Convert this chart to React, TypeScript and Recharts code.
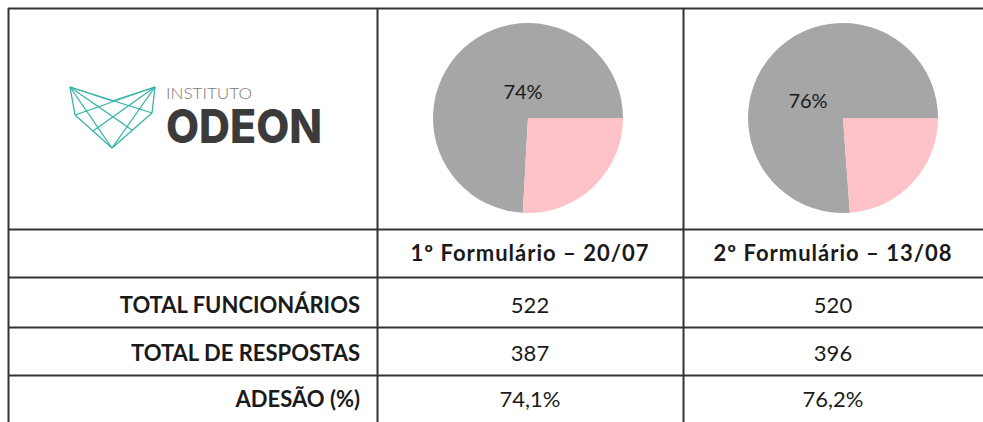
import { PieChart, Pie, Cell } from 'recharts';

const forms = ['1º Formulário – 20/07', '2º Formulário – 13/08'];
const rowLabels = ['TOTAL FUNCIONÁRIOS', 'TOTAL DE RESPOSTAS', 'ADESÃO (%)'];
const totalFuncionarios = [522, 520];
const totalRespostas = [387, 396];
const adesao = ['74,1%', '76,2%'];
const sliceNames = ['Respostas', 'Sem resposta'];
const sliceColors = ['#a6a6a6', '#ffc2c9'];

const FONT = 'Lato, "Open Sans", sans-serif';
const LINE = '#333';

// layout of the table (page pixels)
const colX = [8, 377, 683, 983];
const rowY = [8, 229, 277, 327, 375, 422];
const pieBoxes = [
  { left: 378, width: 305, cx: 150, cy: 109, dx: -5, dy: -27 },
  { left: 684, width: 299, cx: 159, cy: 109, dx: -35, dy: -18 },
];

function Logo() {
  const TL = [70, 87], TR = [155, 87], L = [75, 115], R = [152, 113], B = [112, 148], M = [112, 101];
  const mLB = [93, 131], mBR = [132, 130];
  const segs = [
    [TL, L], [L, B], [B, R], [R, TR], [TL, M], [M, TR],
    [TL, R], [TL, mBR], [TL, B], [TR, L], [TR, mLB], [TR, B],
  ];
  return (
    <svg width={983} height={422} style={{ position: 'absolute', left: 0, top: 0 }}>
      {segs.map(([a, b], i) => (
        <line key={i} x1={a[0]} y1={a[1]} x2={b[0]} y2={b[1]} stroke="#35b3a7" strokeWidth={1.3} />
      ))}
      <text>
        <tspan x={166} y={99} fontFamily={FONT} fontSize={16} fontWeight={300} fill="#7a7a7a"
          textLength={86} lengthAdjust="spacingAndGlyphs">INSTITUTO</tspan>
        <tspan x={166} y={143} fontFamily='Inter, "DejaVu Sans", sans-serif' fontSize={47} fontWeight={800} fill="#3b3b3b"
          textLength={156} lengthAdjust="spacingAndGlyphs">ODEON</tspan>
      </text>
      {colX.slice(0, 3).map((x) => (
        <line key={'v' + x} x1={x + 0.5} y1={rowY[0]} x2={x + 0.5} y2={422} stroke={LINE} strokeWidth={2} />
      ))}
      {rowY.slice(0, 5).map((y) => (
        <line key={'h' + y} x1={colX[0]} y1={y + 0.5} x2={983} y2={y + 0.5} stroke={LINE} strokeWidth={2} />
      ))}
    </svg>
  );
}

function Cellbox({ x0, x1, cy, text, bold, align, spacing }: { x0: number; x1: number; cy: number; text: string; bold?: boolean; align: 'center' | 'right'; spacing?: number }) {
  return (
    <div
      style={{
        position: 'absolute', left: x0, width: x1 - x0, top: cy - 15, height: 30, lineHeight: '30px',
        textAlign: align, fontFamily: FONT, fontSize: 22, fontWeight: bold ? 700 : 400, color: '#1a1a1a',
        letterSpacing: spacing ?? 0,
        boxSizing: 'border-box', paddingRight: align === 'right' ? 17 : 0, whiteSpace: 'nowrap',
      }}
    >
      {text}
    </div>
  );
}

export default function App() {
  const rowCenters = [305, 353, 399];
  const rowValues = [totalFuncionarios.map(String), totalRespostas.map(String), adesao];
  return (
    <div style={{ position: 'absolute', left: 0, top: 0, width: 983, height: 422, background: '#fff', overflow: 'hidden' }}>
      {pieBoxes.map((b, i) => {
        const data = [
          { name: sliceNames[0], value: totalRespostas[i] },
          { name: sliceNames[1], value: totalFuncionarios[i] - totalRespostas[i] },
        ];
        return (
          <div key={i} style={{ position: 'absolute', left: b.left, top: 9, width: b.width, height: 220 }}>
            <PieChart width={b.width} height={220} margin={{ top: 0, right: 0, bottom: 0, left: 0 }}>
              <Pie
                data={data}
                dataKey="value"
                nameKey="name"
                cx={b.cx}
                cy={b.cy}
                outerRadius={95}
                startAngle={0}
                endAngle={360}
                stroke="none"
                labelLine={false}
                isAnimationActive={false}
                label={(p: any) =>
                  p.index === 0 ? (
                    <text x={b.cx + b.dx} y={b.cy + b.dy} textAnchor="middle" dominantBaseline="central"
                      fontFamily={FONT} fontSize={20} fill="#1a1a1a">
                      {Math.round(p.percent * 100) + '%'}
                    </text>
                  ) : null
                }
              >
                {data.map((d, k) => (
                  <Cell key={d.name} fill={sliceColors[k]} />
                ))}
              </Pie>
            </PieChart>
          </div>
        );
      })}
      <Logo />
      {forms.map((f, i) => (
        <Cellbox key={f} x0={colX[i + 1]} x1={colX[i + 2]} cy={253} text={f} bold align="center" spacing={1} />
      ))}
      {rowLabels.map((r, j) => (
        <div key={r}>
          <Cellbox x0={colX[0]} x1={colX[1]} cy={rowCenters[j]} text={r} bold align="right" />
          {rowValues[j].map((v, i) => (
            <Cellbox key={i} x0={colX[i + 1]} x1={colX[i + 2]} cy={rowCenters[j]} text={v} align="center" />
          ))}
        </div>
      ))}
    </div>
  );
}
